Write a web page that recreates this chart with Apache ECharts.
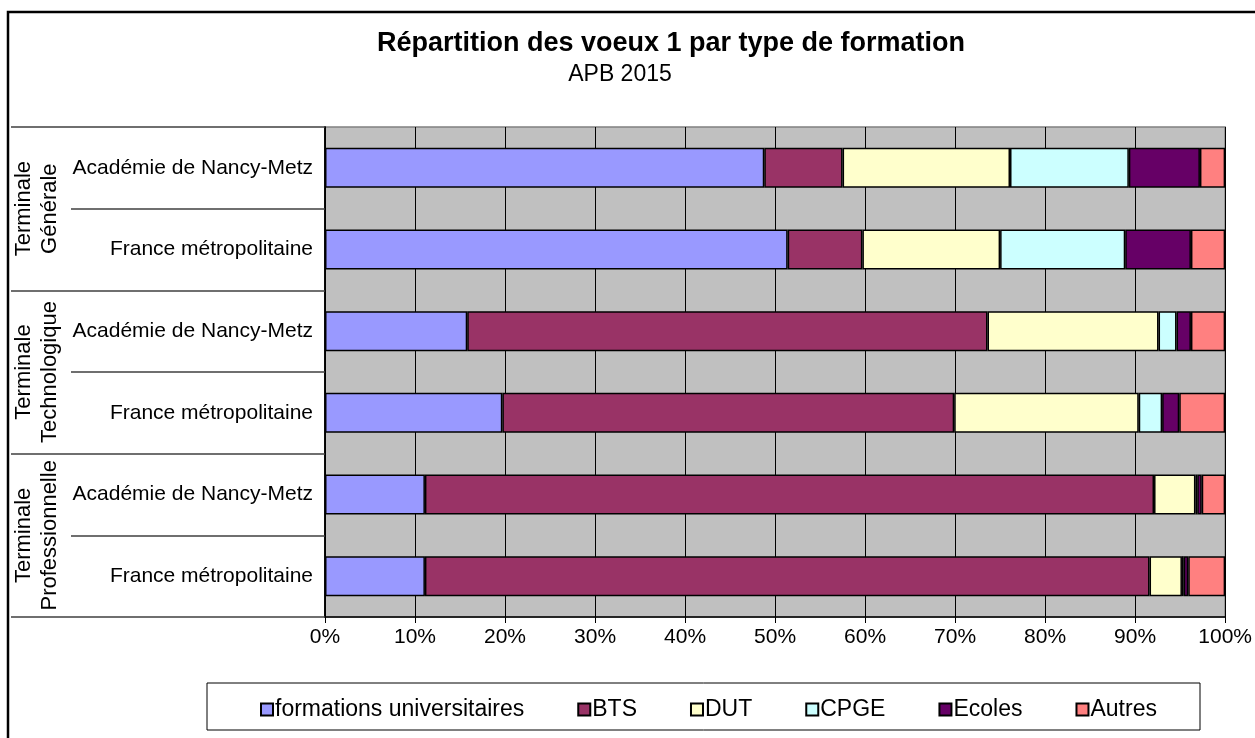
<!DOCTYPE html>
<html>
<head>
<meta charset="utf-8">
<script src="https://cdn.jsdelivr.net/npm/echarts@6/dist/echarts.min.js"></script>
<style>
html,body{margin:0;padding:0;background:#fff}
#chart{width:1255px;height:738px}
</style>
</head>
<body>
<div id="chart"></div>
<script>
// lignes du graphique (de haut en bas)
const categories = ['Académie de Nancy-Metz', 'France métropolitaine',
                    'Académie de Nancy-Metz', 'France métropolitaine',
                    'Académie de Nancy-Metz', 'France métropolitaine'];
const groups = ['Terminale\nGénérale', 'Terminale\nTechnologique', 'Terminale\nProfessionnelle'];

const seriesNames = ['formations universitaires', 'BTS', 'DUT', 'CPGE', 'Ecoles', 'Autres'];
const univ   = [48.8, 51.4, 15.8, 19.7, 11.1, 11.1];
const bts    = [8.7, 8.3, 57.8, 50.2, 81.0, 80.5];
const dut    = [18.6, 15.3, 19.0, 20.5, 4.6, 3.6];
const cpge   = [13.2, 13.9, 2.0, 2.6, 0.2, 0.2];
const ecoles = [7.9, 7.3, 1.6, 1.9, 0.5, 0.5];
const autres = [2.8, 3.8, 3.8, 5.1, 2.6, 4.1];

const colors = ['#9999ff', '#993366', '#ffffcc', '#ccffff', '#660066', '#ff8080'];
const values = [univ, bts, dut, cpge, ecoles, autres];

const font = '"Liberation Sans", Arial, sans-serif';

let myChart = echarts.init(document.getElementById('chart'));

myChart.setOption({
  animation: false,
  textStyle: { fontFamily: font },
  title: [
    {
      text: 'Répartition des voeux 1 par type de formation',
      left: 671, top: 30, textAlign: 'center', padding: 0,
      textStyle: { fontSize: 27, fontWeight: 'bold', color: '#000', fontFamily: font }
    },
    {
      text: 'APB 2015',
      left: 620, top: 63, textAlign: 'center', padding: 0,
      textStyle: { fontSize: 23, fontWeight: 'normal', color: '#000', fontFamily: font }
    }
  ],
  graphic: [
    // cadre extérieur
    { type: 'rect', shape: { x: 8, y: 12, width: 1270, height: 760 },
      style: { fill: 'none', stroke: '#000', lineWidth: 2.5 }, silent: true },
    // cadre de la légende
    { type: 'rect', shape: { x: 207, y: 683, width: 993, height: 47 },
      style: { fill: '#fff', stroke: '#000', lineWidth: 1 }, silent: true, z: 0 }
  ],
  legend: {
    data: seriesNames,
    left: 255, top: 693,
    icon: 'rect', itemWidth: 12, itemHeight: 12, itemGap: 53,
    textStyle: { fontSize: 23, color: '#000', fontFamily: font, padding: [0, 0, 0, -3] },
    z: 5
  },
  grid: {
    left: 325, right: 29, top: 127, bottom: 121,
    show: true, backgroundColor: '#c0c0c0', borderColor: '#808080', borderWidth: 1.5
  },
  xAxis: {
    type: 'value', min: 0, max: 100, interval: 10,
    axisLine: { show: true, lineStyle: { color: '#000', width: 1.5 } },
    axisTick: { show: true, length: 6, lineStyle: { color: '#000' } },
    axisLabel: { formatter: '{value}%', fontSize: 21, color: '#000', margin: 10 },
    splitLine: { show: true, lineStyle: { color: '#000', width: 1 } }
  },
  yAxis: [
    {
      type: 'category', data: categories, inverse: true,
      axisLine: { show: true, lineStyle: { color: '#000', width: 1.5 } },
      axisTick: { show: true, length: 254, lineStyle: { color: '#404040', width: 1.5 } },
      axisLabel: { fontSize: 21, color: '#000', margin: 12, interval: 0 }
    },
    {
      type: 'category', data: groups, inverse: true, position: 'left',
      axisLine: { show: true, lineStyle: { color: '#000', width: 1.5 } },
      axisTick: { show: true, length: 314, interval: 0, lineStyle: { color: '#404040', width: 1.5 } },
      axisLabel: { rotate: 90, interval: 0, hideOverlap: false, fontSize: 22, lineHeight: 26,
                   color: '#000', margin: 262 }
    }
  ],
  series: seriesNames.map((name, i) => ({
    name: name,
    type: 'bar',
    stack: 'total',
    yAxisIndex: 0,
    barWidth: '49%',
    data: values[i],
    itemStyle: { color: colors[i], borderColor: '#000', borderWidth: 1.5 }
  }))
});
</script>
</body>
</html>
